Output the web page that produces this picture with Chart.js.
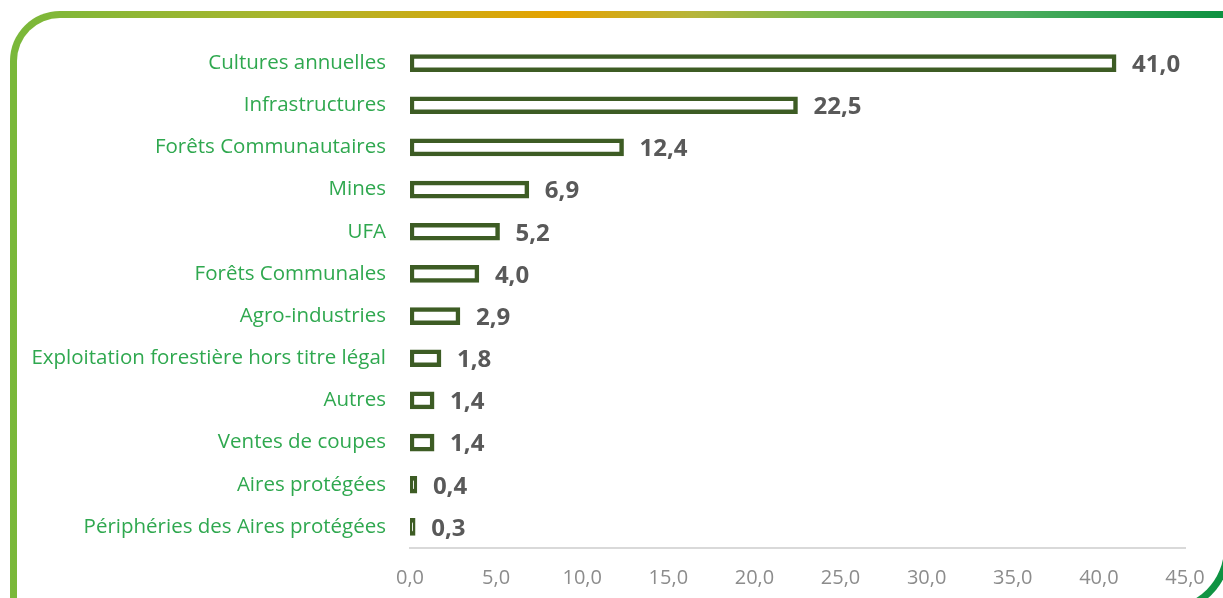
<!DOCTYPE html>
<html>
<head>
<meta charset="utf-8">
<script src="https://cdn.jsdelivr.net/npm/chart.js@4"></script>
<style>
  html, body { margin: 0; padding: 0; background: #fff; overflow: hidden; }
  body { width: 1223px; height: 598px; position: relative; }
  .frame {
    position: absolute; left: 10px; top: 11px; width: 1207px; height: 589px;
    border: 7px solid transparent;
    border-radius: 50px 0 66px 0;
    background: linear-gradient(#fff, #fff) padding-box,
                linear-gradient(to right, #79b83a 0%, #a9b52c 22%, #e6a200 45%, #b6b53a 56%, #7cba4e 66%, #4eae5e 82%, #0a9140 100%) border-box;
  }
  .wrap { position: absolute; left: 0; top: 0; width: 1223px; height: 598px; }
</style>
</head>
<body>
<div class="frame"></div>
<div class="wrap"><canvas id="chart" width="1223" height="598"></canvas></div>
<script>
const categories = [
    'Cultures annuelles',
    'Infrastructures',
    'Forêts Communautaires',
    'Mines',
    'UFA',
    'Forêts Communales',
    'Agro-industries',
    'Exploitation forestière hors titre légal',
    'Autres',
    'Ventes de coupes',
    'Aires protégées',
    'Périphéries des Aires protégées'
];
const values = [41.0, 22.5, 12.4, 6.9, 5.2, 4.0, 2.9, 1.8, 1.4, 1.4, 0.4, 0.3];
const axisMax = 45;
const axisStep = 5;

function formatNumber(num) {
    return num.toFixed(1).replace('.', ',');
}

// bold grey value after each bar
const valueLabels = {
    id: 'valueLabels',
    afterDatasetsDraw(chart) {
        const ctx = chart.ctx;
        const meta = chart.getDatasetMeta(0);
        ctx.save();
        ctx.font = 'bold 24px "Open Sans"';
        ctx.fillStyle = '#595959';
        ctx.textAlign = 'left';
        ctx.textBaseline = 'middle';
        meta.data.forEach((bar, i) => {
            ctx.fillText(formatNumber(values[i]), bar.x + 16, bar.y + 2);
        });
        ctx.restore();
    }
};

const ctx = document.getElementById('chart').getContext('2d');

new Chart(ctx, {
    type: 'bar',
    data: {
        labels: categories,
        datasets: [{
            data: values,
            backgroundColor: '#ffffff',
            borderColor: '#3d5c24',
            borderWidth: 4.5,
            borderSkipped: false,
            barThickness: 17
        }]
    },
    options: {
        indexAxis: 'y',
        responsive: false,
        animation: false,
        devicePixelRatio: 1,
        layout: { padding: { top: 42, right: 38, bottom: 0, left: 0 } },
        plugins: {
            legend: { display: false },
            tooltip: { enabled: false }
        },
        scales: {
            y: {
                grid: { display: false, drawTicks: false },
                border: { display: false },
                ticks: {
                    color: '#2fa84f',
                    font: { family: 'Open Sans', size: 20.5 },
                    padding: 24
                },
                afterFit(scale) { scale.width = 410; }
            },
            x: {
                min: 0,
                max: axisMax,
                grid: { display: false, drawTicks: false },
                border: { display: true, color: '#d9d9d9', width: 2 },
                ticks: {
                    stepSize: axisStep,
                    color: '#8c8c8c',
                    font: { family: 'Open Sans', size: 20 },
                    padding: 18,
                    callback: v => formatNumber(v)
                },
                afterFit(scale) { scale.height = 50; }
            }
        }
    },
    plugins: [valueLabels]
});
</script>
</body>
</html>
